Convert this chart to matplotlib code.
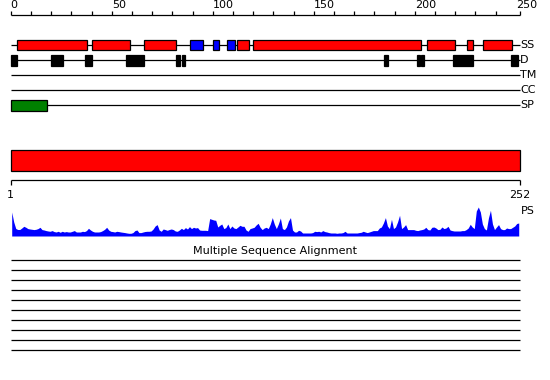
import numpy as np
import matplotlib.pyplot as plt

# =========================
# data
# =========================
SEQ_LEN = 252

# secondary structure (start, end) in residues
ss_helix = [(3, 38), (40, 59), (66, 82), (112, 118), (120, 203), (206, 220), (226, 229), (234, 248)]
ss_strand = [(89, 95), (100, 103), (107, 111)]

# disorder
dis_regions = [(0, 3), (20, 26), (37, 40), (57, 66), (82, 84), (85, 86.3), (185, 187),
               (201, 202.4), (203, 204.5), (219, 229), (247.5, 251)]

# signal peptide
sp_regions = [(0, 18)]

track_names = ["SS", "D", "TM", "CC", "SP"]

# PS profile, one value per residue
ps_score = [
    24, 14, 7.5, 6.5, 6.5, 8, 9.7, 8.7, 7.4, 7,
    6.7, 6.4, 6.7, 7.4, 8.7, 6.4, 6, 5.4, 5, 4.7,
    5.4, 4.4, 4, 4.7, 3.7, 4.7, 4, 4.4, 4, 4,
    4.7, 5.4, 4, 4, 4, 4.7, 4.4, 5.4, 7.7, 6,
    4.7, 4, 4, 4, 4.4, 5.4, 6.7, 8.7, 6, 4.7,
    4.4, 4, 4.7, 4.4, 4, 3.7, 3.4, 3, 2.7, 2.7,
    3.4, 5.4, 6, 3.4, 3.4, 4, 4.5, 4.7, 4.7, 5,
    7, 10, 11.4, 6, 4.7, 7, 6.4, 5.7, 6.5, 7,
    6.4, 5, 4.7, 6, 7.7, 6.4, 8.4, 7, 9.4, 7.4,
    8.7, 8, 8.4, 6, 5.7, 5.7, 5.7, 5.4, 17.4, 16.7,
    16, 15.7, 9, 10.7, 12, 7.4, 8.4, 12, 7.4, 10,
    8, 7.4, 9, 10.7, 9.7, 9.7, 6, 4.7, 7.4, 8,
    8.7, 11, 12.7, 8.7, 6.4, 8, 8.7, 7.4, 12, 18.4,
    12, 7.4, 12, 18, 7.4, 6.4, 9, 15, 18.4, 6,
    4, 4, 5.7, 5, 3, 3, 3, 3, 3, 3.4,
    4.7, 4.4, 4.7, 4, 5.4, 4.4, 4, 3.4, 3, 3,
    3, 2.7, 3, 3, 3.4, 4.7, 3, 3, 3, 3,
    3, 3, 3.4, 3.7, 4.7, 4, 3.4, 4, 4.7, 5.4,
    5.4, 5.4, 8, 9, 13, 18.4, 10, 7.4, 16.7, 7.4,
    9, 14, 20.7, 7.4, 9, 11.4, 6.4, 6.4, 6.4, 6.4,
    5.7, 5.4, 6, 6.4, 7, 8.7, 6.4, 6, 8.7, 9,
    8, 6.4, 6.7, 9, 7.4, 8, 9.7, 6, 5.4, 5,
    5, 5, 5, 5.4, 5.4, 6.4, 8, 11.7, 9, 7.4,
    25, 29, 24, 12, 7.4, 6, 18, 25.7, 12, 6.4,
    9, 11.4, 7.4, 6.4, 6.4, 8, 7.4, 7.4, 8.7, 10,
    12.5, 13,
]

n_aligned = 10
ruler_labels = [0, 50, 100, 150, 200, 250]

# =========================
# layout (pixels)
# =========================
W, H = 550, 380
X0 = 10.7
SCALE = 2.02
FS = 8
LW = 0.9

fig = plt.figure(figsize=(W / 100, H / 100), dpi=100)
ax = fig.add_axes([0, 0, 1, 1])
ax.set_xlim(-X0 / SCALE, (W - X0) / SCALE)
ax.set_ylim(H, 0)
ax.axis("off")

# top ruler
ax.hlines(15, 0, SEQ_LEN, color="black", lw=LW)
ticks = list(range(0, 250, 10)) + [SEQ_LEN]
ax.vlines(ticks, 11, 15, color="black", lw=LW)
for t in ruler_labels:
    ax.text(t, 10.5, str(t), ha="left", va="bottom", fontsize=FS)

# tracks
track_y = [45.2, 60.4, 75.4, 90.2, 105.4]
for name, y in zip(track_names, track_y):
    ax.hlines(y, 0, SEQ_LEN, color="black", lw=LW, zorder=1)
    ax.text(SEQ_LEN + 0.2, y, name, ha="left", va="center", fontsize=FS)

def boxes(regions, y, h, color):
    for s, e in regions:
        ax.barh(y, e - s, left=s, height=h, color=color, edgecolor="black",
                linewidth=LW, zorder=2)

boxes(ss_helix, track_y[0], 9.5, "#ff0000")
boxes(ss_strand, track_y[0], 9.5, "#0000ff")
boxes(dis_regions, track_y[1], 10.5, "black")
boxes(sp_regions, track_y[4], 10.3, "#008000")

# full length bar
ax.barh(160.3, SEQ_LEN, left=0, height=20.7, color="#ff0000", edgecolor="black",
        linewidth=LW)

# lower ruler
ax.hlines(180.3, 0, SEQ_LEN, color="black", lw=LW)
ax.vlines([0, SEQ_LEN], 180.3, 185, color="black", lw=LW)
ax.text(0, 195.5, "1", ha="center", va="center", fontsize=FS)
ax.text(SEQ_LEN, 195.5, str(SEQ_LEN), ha="center", va="center", fontsize=FS)
ax.text(SEQ_LEN + 0.6, 211, "PS", ha="left", va="center", fontsize=FS)

# alignment
ax.text(131, 251, "Multiple Sequence Alignment", ha="center", va="center", fontsize=FS)
for k in range(n_aligned):
    ax.hlines(260.3 + 10 * k, 0, SEQ_LEN, color="black", lw=LW)

# PS profile
top, bottom = 205, 236
ax_ps = fig.add_axes([X0 / W, (H - bottom) / H, SEQ_LEN * SCALE / W, (bottom - top) / H])
ax_ps.set_xlim(0, SEQ_LEN)
ax_ps.set_ylim(0, 31)
ax_ps.axis("off")
pos = np.arange(len(ps_score)) + 0.5
ax_ps.fill_between(pos, ps_score, 0, color="#0000ff", lw=0)

fig.savefig("out.png", dpi=100)
